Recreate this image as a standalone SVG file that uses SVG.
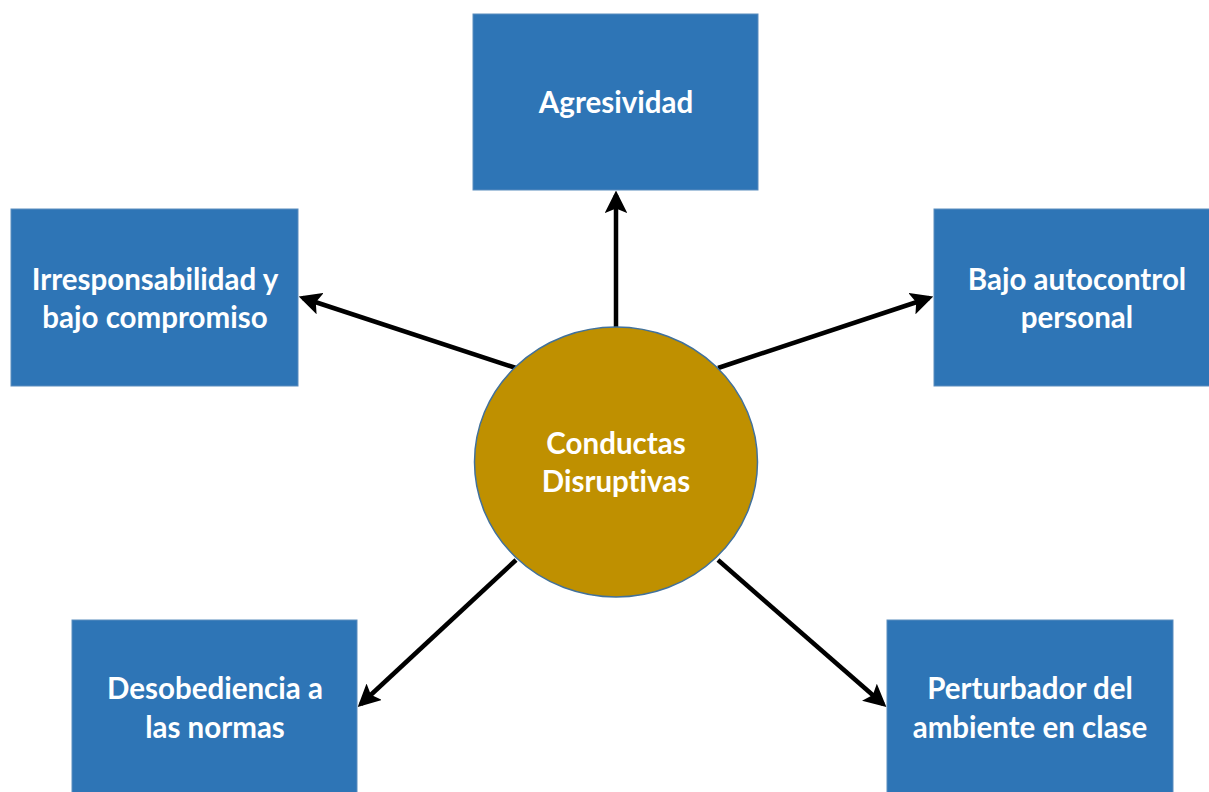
<svg xmlns="http://www.w3.org/2000/svg" width="1209" height="792" viewBox="0 0 1209 792">
  <style>
    .box { fill: #2E75B6; stroke: #5B8DBE; stroke-width: 1; }
    .hub { fill: #BF9000; stroke: #41719C; stroke-width: 1.5; }
    .label { font-family: Lato, "Open Sans", sans-serif; font-weight: bold; font-size: 29.5px; fill: #FFFFFF; text-anchor: middle; font-variant-ligatures: none; }
    .link { stroke: #000000; stroke-width: 4.5; fill: none; marker-end: url(#arrow); }
  </style>
  <defs>
    <marker id="arrow" markerWidth="5" markerHeight="5" refX="4" refY="2.5" orient="auto" markerUnits="strokeWidth">
      <path d="M0,0 L5,2.5 L0,5 L1,2.5 Z" fill="#000000"/>
    </marker>
  </defs>

  <rect width="1209" height="792" fill="#FFFFFF"/>

  <g id="connectors">
    <line class="link" x1="616" y1="327" x2="616" y2="195"/>
    <line class="link" x1="516" y1="368" x2="303" y2="298"/>
    <line class="link" x1="718" y1="368" x2="929" y2="298"/>
    <line class="link" x1="516" y1="560" x2="361" y2="704"/>
    <line class="link" x1="718" y1="560" x2="883" y2="704"/>
  </g>

  <g id="node-hub">
    <ellipse class="hub" cx="616" cy="462" rx="141.5" ry="135"/>
    <text class="label"><tspan x="616" y="454">Conductas</tspan><tspan x="616" y="492">Disruptivas</tspan></text>
  </g>

  <g id="node-agresividad">
    <rect class="box" x="473" y="14" width="285" height="176"/>
    <text class="label" x="616" y="113">Agresividad</text>
  </g>

  <g id="node-irresponsabilidad">
    <rect class="box" x="11" y="209" width="287" height="177"/>
    <text class="label"><tspan x="155" y="290">Irresponsabilidad y</tspan><tspan x="155" y="328">bajo compromiso</tspan></text>
  </g>

  <g id="node-autocontrol">
    <rect class="box" x="934" y="209" width="280" height="177"/>
    <text class="label"><tspan x="1077" y="290">Bajo autocontrol</tspan><tspan x="1077" y="328">personal</tspan></text>
  </g>

  <g id="node-desobediencia">
    <rect class="box" x="72" y="620" width="285" height="180"/>
    <text class="label"><tspan x="215" y="699">Desobediencia a</tspan><tspan x="215" y="738">las normas</tspan></text>
  </g>

  <g id="node-perturbador">
    <rect class="box" x="887" y="620" width="286" height="180"/>
    <text class="label"><tspan x="1030" y="699">Perturbador del</tspan><tspan x="1030" y="738">ambiente en clase</tspan></text>
  </g>
</svg>
